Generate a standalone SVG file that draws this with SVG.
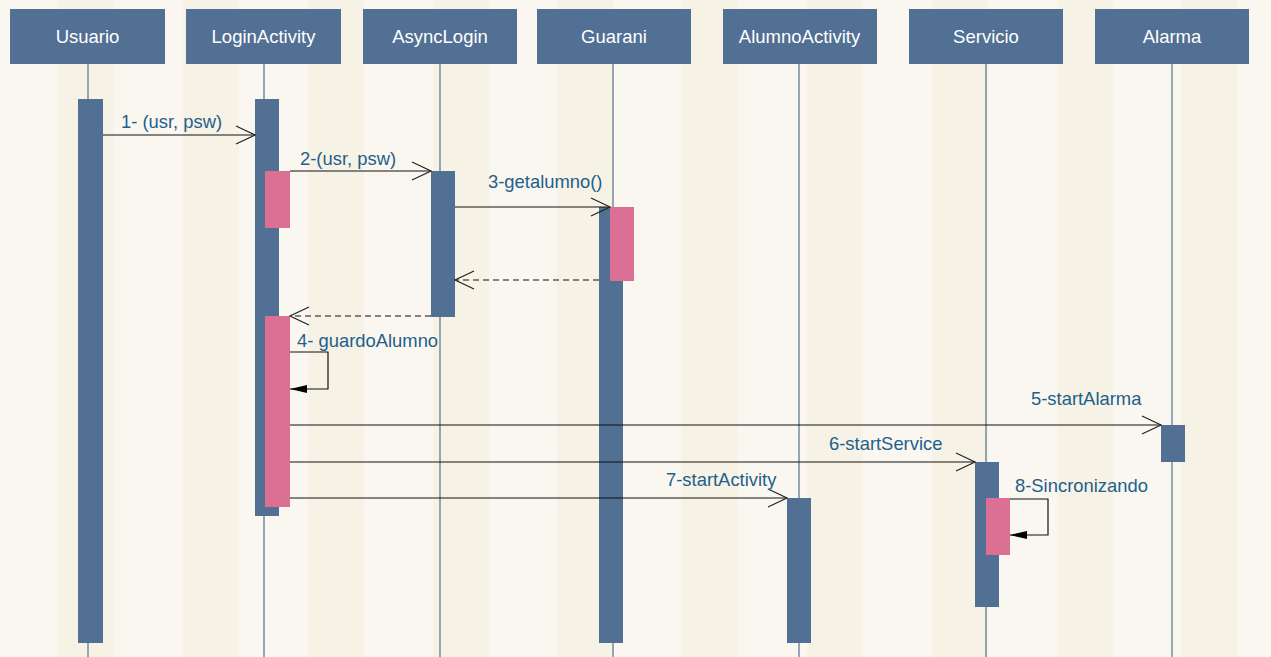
<svg xmlns="http://www.w3.org/2000/svg" width="1271" height="657" viewBox="0 0 1271 657">
<defs>
<style>
.hd{fill:#517094}
.ht{fill:#ffffff;font-family:"Liberation Sans",Arial,sans-serif;font-size:18.5px;text-anchor:middle}
.ll{stroke:#52708f;stroke-width:1.2;fill:none}
.act{fill:#517094}
.pk{fill:#dc7094}
.msg{stroke:#111;stroke-width:1.2;fill:none}
.dash{stroke:#111;stroke-width:1.2;fill:none;stroke-dasharray:6 4}
.lb{fill:#1e5f8c;font-family:"Liberation Sans",Arial,sans-serif;font-size:18.4px}
.stripe{fill:#f6f2e5}
</style>
<marker id="open" markerWidth="22" markerHeight="22" refX="20" refY="10" orient="auto" markerUnits="userSpaceOnUse">
<path d="M1,1 L20,10 L1,19" fill="none" stroke="#222" stroke-width="1.2"/>
</marker>
<marker id="fill" markerWidth="18" markerHeight="10" refX="17" refY="5" orient="auto" markerUnits="userSpaceOnUse">
<path d="M0,1 L17,5 L0,9 Z" fill="#000"/>
</marker>
</defs>
<rect width="1271" height="657" fill="#faf7f0"/>
<g id="background">
<rect class="stripe" x="58" y="0" width="56" height="657"/>
<rect class="stripe" x="183" y="0" width="56" height="657"/>
<rect class="stripe" x="308" y="0" width="56" height="657"/>
<rect class="stripe" x="433" y="0" width="56" height="657"/>
<rect class="stripe" x="557" y="0" width="56" height="657"/>
<rect class="stripe" x="682" y="0" width="56" height="657"/>
<rect class="stripe" x="807" y="0" width="56" height="657"/>
<rect class="stripe" x="932" y="0" width="56" height="657"/>
<rect class="stripe" x="1057" y="0" width="56" height="657"/>
<rect class="stripe" x="1181" y="0" width="56" height="657"/>
</g>
<g id="Usuario">
<line class="ll" x1="88" y1="64" x2="88" y2="657"/>
<rect class="hd" x="10" y="9" width="155" height="55"/>
<text class="ht" x="87.5" y="43">Usuario</text>
<rect class="act" x="78" y="99" width="25" height="544"/>
</g>
<g id="LoginActivity">
<line class="ll" x1="264" y1="64" x2="264" y2="657"/>
<rect class="hd" x="186" y="9" width="155" height="55"/>
<text class="ht" x="263.5" y="43">LoginActivity</text>
<rect class="act" x="255" y="99" width="24" height="417"/>
<rect class="pk" x="265" y="171" width="25" height="57"/>
<rect class="pk" x="265" y="316" width="25" height="191"/>
</g>
<g id="AsyncLogin">
<line class="ll" x1="440" y1="64" x2="440" y2="657"/>
<rect class="hd" x="363" y="9" width="154" height="55"/>
<text class="ht" x="440" y="43">AsyncLogin</text>
<rect class="act" x="431" y="171" width="24" height="146"/>
</g>
<g id="Guarani">
<line class="ll" x1="613" y1="64" x2="613" y2="657"/>
<rect class="hd" x="537" y="9" width="154" height="55"/>
<text class="ht" x="614" y="43">Guarani</text>
<rect class="act" x="599" y="207" width="24" height="436"/>
<rect class="pk" x="610" y="207" width="24" height="74"/>
</g>
<g id="AlumnoActivity">
<line class="ll" x1="799" y1="64" x2="799" y2="657"/>
<rect class="hd" x="723" y="9" width="154" height="55"/>
<text class="ht" x="799.5" y="43">AlumnoActivity</text>
<rect class="act" x="787" y="498" width="24" height="145"/>
</g>
<g id="Servicio">
<line class="ll" x1="986" y1="64" x2="986" y2="657"/>
<rect class="hd" x="909" y="9" width="154" height="55"/>
<text class="ht" x="986" y="43">Servicio</text>
<rect class="act" x="975" y="462" width="24" height="145"/>
<rect class="pk" x="986" y="498" width="24" height="57"/>
</g>
<g id="Alarma">
<line class="ll" x1="1172" y1="64" x2="1172" y2="657"/>
<rect class="hd" x="1095" y="9" width="154" height="55"/>
<text class="ht" x="1172" y="43">Alarma</text>
<rect class="act" x="1161" y="425" width="24" height="37"/>
</g>
<g id="connectors">
<line class="msg" x1="103" y1="135" x2="255" y2="135" marker-end="url(#open)"/>
<line class="msg" x1="290" y1="171" x2="431" y2="171" marker-end="url(#open)"/>
<line class="msg" x1="455" y1="207" x2="610" y2="207" marker-end="url(#open)"/>
<line class="dash" x1="599" y1="280" x2="455" y2="280" marker-end="url(#open)"/>
<line class="dash" x1="431" y1="316" x2="290" y2="316" marker-end="url(#open)"/>
<path class="msg" d="M290,352 H328 V389 H290" marker-end="url(#fill)"/>
<line class="msg" x1="290" y1="425" x2="1161" y2="425" marker-end="url(#open)"/>
<line class="msg" x1="290" y1="462" x2="975" y2="462" marker-end="url(#open)"/>
<line class="msg" x1="290" y1="498" x2="787" y2="498" marker-end="url(#open)"/>
<path class="msg" d="M1010,499 H1048 V535 H1010" marker-end="url(#fill)"/>
</g>
<g id="labels">
<text class="lb" x="121" y="128">1- (usr, psw)</text>
<text class="lb" x="300" y="165">2-(usr, psw)</text>
<text class="lb" x="488" y="188">3-getalumno()</text>
<text class="lb" x="297" y="347">4- guardoAlumno</text>
<text class="lb" x="1031" y="405">5-startAlarma</text>
<text class="lb" x="829" y="450">6-startService</text>
<text class="lb" x="666" y="486">7-startActivity</text>
<text class="lb" x="1015" y="492">8-Sincronizando</text>
</g>
</svg>
